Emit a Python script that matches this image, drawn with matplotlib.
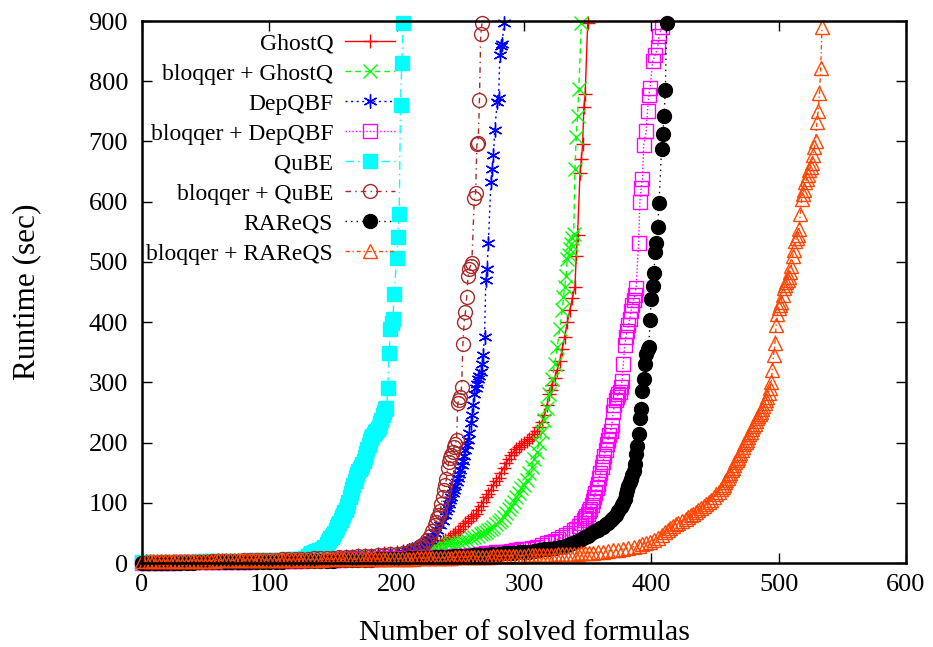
import matplotlib
matplotlib.use('Agg')
import matplotlib.pyplot as plt

plt.rcParams['font.family'] = ['Liberation Serif', 'DejaVu Serif']

# (number of solved formulas, runtime in sec)

ghostq = [(0, 0.5), (5, 0.7), (10, 1), (15, 1.2), (20, 1.5), (25, 1.7), (30, 2), (35, 2.2), (40, 2.5),
          (45, 2.7), (50, 3), (55, 3.2), (60, 3.5), (65, 3.7), (70, 4), (75, 4.2), (80, 4.5), (85, 4.7),
          (90, 5), (95, 5.2), (100, 5.5), (105, 5.8), (110, 6), (115, 6.3), (120, 6.6), (125, 7),
          (130, 7.4), (135, 7.8), (140, 8.2), (145, 8.8), (150, 9.5), (155, 10), (160, 11), (165, 11.8),
          (170, 12.5), (175, 13.3), (180, 14), (185, 15), (190, 16), (195, 17), (200, 18), (205, 19.5),
          (210, 21), (215, 23), (220, 25), (225, 27), (228, 29), (230, 31), (232, 32), (234, 33),
          (236, 36), (238, 38), (240, 40), (242, 43), (244, 46), (246, 50), (248, 53), (250, 57),
          (252, 62), (254, 66), (256, 70), (258, 74), (260, 78), (262, 82), (264, 88), (266, 95),
          (268, 102), (270, 110), (272, 115), (274, 122), (276, 130), (278, 137), (280, 142), (282, 150),
          (284, 158), (286, 166), (288, 173), (290, 180), (292, 185), (294, 190), (296, 193), (298, 196),
          (300, 200), (302, 203), (304, 206), (306, 210), (308, 214), (310, 219), (312, 226), (314, 234),
          (316, 245), (318, 262), (320, 280), (321, 288), (322, 295), (324, 308), (326, 320), (328, 335),
          (330, 355), (332, 376), (334, 400), (336, 420), (338, 440), (340, 459), (341, 509), (342, 544),
          (344, 648), (345, 671), (346, 695), (347, 757), (348, 778), (350, 896)]

bloqqer_ghostq = [(0, 0.5), (5, 0.6), (10, 0.8), (15, 1), (20, 1.2), (25, 1.4), (30, 1.6), (35, 1.8),
                  (40, 2), (45, 2.2), (50, 2.4), (55, 2.6), (60, 2.8), (65, 3), (70, 3.2), (75, 3.4),
                  (80, 3.6), (85, 3.8), (90, 4), (95, 4.2), (100, 4.4), (105, 4.6), (110, 4.8), (115, 5),
                  (120, 5.3), (125, 5.6), (130, 6), (135, 6.4), (140, 6.8), (145, 7.2), (150, 7.6),
                  (155, 8), (160, 8.5), (165, 9), (170, 9.5), (175, 10), (180, 10.6), (185, 11.3),
                  (190, 12), (195, 13), (200, 14), (205, 15), (210, 16.5), (215, 18), (220, 20),
                  (225, 21.5), (228, 23), (231, 25), (234, 27), (237, 29), (240, 31), (243, 32.5),
                  (246, 34), (249, 35.5), (252, 37), (255, 39), (258, 41), (261, 43), (264, 45), (266, 48),
                  (268, 50), (270, 52), (272, 55), (274, 57), (276, 60), (278, 64), (280, 68), (282, 72),
                  (284, 77), (286, 83), (288, 89), (290, 94), (292, 102), (294, 110), (296, 117),
                  (298, 124), (300, 130), (302, 138), (304, 150), (306, 160), (308, 172), (310, 185),
                  (312, 199), (314, 218), (316, 238), (318, 258), (320, 280), (322, 305), (324, 330),
                  (326, 358), (328, 388), (330, 420), (331, 441), (332, 458), (333, 476), (334, 505),
                  (335, 512), (336, 522), (337, 529), (338, 540), (339, 547), (340, 654), (341, 707),
                  (342, 742), (343, 787), (345, 896)]

depqbf = [(0, 0.5), (5, 0.7), (10, 0.9), (15, 1.1), (20, 1.3), (25, 1.5), (30, 1.7), (35, 1.9), (40, 2.1),
          (45, 2.3), (50, 2.5), (55, 2.7), (60, 2.9), (65, 3.1), (70, 3.3), (75, 3.5), (80, 3.7), (85, 3.9),
          (90, 4.1), (95, 4.3), (100, 4.5), (105, 4.8), (110, 5.1), (115, 5.4), (120, 5.7), (125, 6),
          (130, 6.4), (135, 6.8), (140, 7.2), (145, 7.6), (150, 8), (155, 8.5), (160, 9), (165, 9.5),
          (170, 10), (175, 10.7), (180, 11.4), (185, 12.2), (190, 13), (195, 14), (200, 15.5),
          (205, 18), (208, 20), (210, 21.5), (212, 23), (214, 25), (216, 27), (218, 29), (220, 31),
          (222, 33.5), (224, 36), (226, 39), (228, 44), (230, 50), (232, 55), (234, 63), (236, 70),
          (238, 80), (239, 86), (240, 92), (241, 98), (242, 104), (243, 110), (244, 116), (245, 122),
          (246, 128), (247, 134), (248, 141), (249, 148), (250, 155), (251, 163), (252, 170), (253, 178),
          (254, 187), (255, 196), (256, 205), (257, 216), (258, 232), (259, 245), (260, 262), (261, 281),
          (262, 290), (263, 298), (264, 305), (265, 311), (266, 317), (267, 330), (268, 346), (269, 376),
          (270, 470), (271, 488), (272, 532), (274, 633), (275, 654), (276, 677), (277, 719), (279, 766),
          (280, 772), (281, 843), (282, 858), (283, 862), (284, 896)]

bloqqer_depqbf = [(0, 0.3), (5, 0.4), (10, 0.5), (15, 0.6), (20, 0.7), (25, 0.8), (30, 0.9), (35, 1),
                  (40, 1.1), (45, 1.2), (50, 1.3), (55, 1.4), (60, 1.5), (65, 1.7), (70, 1.9), (75, 2.1),
                  (80, 2.3), (85, 2.5), (90, 2.7), (95, 2.9), (100, 3.1), (105, 3.3), (110, 3.5),
                  (115, 3.7), (120, 3.9), (125, 4.1), (130, 4.3), (135, 4.5), (140, 4.7), (145, 5),
                  (150, 5.3), (155, 5.6), (160, 5.9), (165, 6.2), (170, 6.5), (175, 6.8), (180, 7.1),
                  (185, 7.4), (190, 7.7), (195, 8), (200, 8.3), (205, 8.6), (210, 8.9), (215, 9.2),
                  (220, 9.5), (225, 9.8), (230, 10.1), (235, 10.4), (240, 10.7), (245, 11), (250, 11.3),
                  (254, 12), (258, 13), (262, 14), (266, 15), (270, 16), (274, 17), (278, 18), (282, 18.5),
                  (286, 19), (290, 20), (294, 21), (298, 22.5), (302, 24), (306, 25.5), (310, 27),
                  (314, 30), (318, 33), (321, 35), (324, 37), (327, 40), (330, 43), (333, 46), (336, 50),
                  (339, 54), (341, 57), (343, 61), (345, 66), (347, 71), (348, 74), (349, 78), (350, 82),
                  (351, 86), (352, 90), (353, 96), (354, 103), (355, 110), (356, 117), (357, 124),
                  (358, 132), (359, 141), (360, 150), (361, 159), (362, 168), (363, 178), (364, 188),
                  (365, 198), (366, 205), (367, 212), (368, 220), (369, 229), (370, 250), (371, 262),
                  (372, 270), (373, 276), (374, 280), (375, 284), (376, 292), (377, 303), (378, 330),
                  (379, 362), (380, 375), (381, 386), (382, 395), (383, 405), (384, 418), (385, 428),
                  (386, 436), (387, 445), (388, 457), (390, 531), (391, 600), (392, 623), (393, 638),
                  (394, 694), (396, 718), (397, 751), (398, 777), (399, 789), (401, 834), (403, 843),
                  (405, 857), (406, 875), (408, 890)]

qube = [(0, 1.5), (5, 1.6), (10, 1.7), (15, 1.8), (20, 1.9), (25, 2), (30, 2.1), (35, 2.2), (40, 2.4),
        (45, 2.6), (50, 2.8), (55, 3), (60, 3.2), (65, 3.4), (70, 3.6), (75, 3.8), (80, 4), (85, 4.2),
        (90, 4.4), (95, 4.6), (100, 4.9), (105, 5.2), (110, 5.6), (115, 6), (120, 6.6), (125, 7.5),
        (128, 9), (130, 11), (132, 14), (133, 16), (135, 18), (137, 20), (139, 22), (141, 24), (143, 27),
        (145, 31), (146, 35), (147, 38), (148, 42), (149, 44), (150, 46), (151, 50), (152, 55), (153, 59),
        (154, 63), (155, 67), (156, 71), (157, 76), (158, 80), (159, 84), (160, 88), (161, 95), (162, 102),
        (163, 109), (164, 116), (165, 123), (166, 130), (167, 137), (168, 143), (169, 148), (170, 152),
        (171, 156), (172, 160), (173, 165), (174, 170), (175, 176), (176, 183), (177, 190), (178, 196),
        (179, 202), (180, 207), (181, 211), (182, 215), (183, 218), (184, 220), (185, 223), (186, 226),
        (187, 232), (188, 238), (189, 245), (190, 251), (191, 255), (192, 258), (193, 290), (194, 349),
        (195, 388), (196, 398), (197, 405), (198, 447), (200, 506), (201, 541), (202, 580), (203, 760),
        (204, 831), (205, 896)]

bloqqer_qube = [(0, 0.5), (5, 0.6), (10, 0.8), (15, 1), (20, 1.2), (25, 1.4), (30, 1.6), (35, 1.8),
                (40, 2), (45, 2.2), (50, 2.5), (55, 2.8), (60, 3), (65, 3.3), (70, 3.6), (75, 3.9),
                (80, 4.2), (85, 4.5), (90, 4.8), (95, 5.1), (100, 5.4), (105, 5.7), (110, 6), (115, 6.3),
                (120, 6.6), (125, 7), (130, 7.4), (135, 7.8), (140, 8.2), (145, 8.6), (150, 9), (155, 9.5),
                (160, 10), (165, 10.5), (170, 11), (175, 11.6), (180, 12.2), (185, 12.8), (190, 13.5),
                (195, 14.2), (200, 15), (205, 16), (210, 18), (213, 21), (216, 24), (218, 27), (220, 30),
                (222, 34), (224, 39), (226, 45), (228, 53), (230, 63), (231, 68), (232, 74), (233, 80),
                (234, 86), (235, 98), (236, 110), (237, 122), (238, 130), (239, 139), (240, 157),
                (241, 168), (242, 175), (243, 180), (244, 184), (245, 192), (246, 198), (247, 204),
                (248, 266), (249, 270), (250, 275), (251, 293), (252, 364), (253, 400), (254, 417),
                (255, 441), (256, 476), (257, 488), (258, 494), (259, 498), (261, 606), (262, 615),
                (263, 695), (264, 698), (265, 769), (266, 878), (267, 896)]

rareqs = [(0, 0), (5, 0.1), (10, 0.2), (15, 0.3), (20, 0.4), (25, 0.5), (30, 0.6), (35, 0.7), (40, 0.8),
          (45, 0.9), (50, 1), (55, 1.1), (60, 1.2), (65, 1.3), (70, 1.4), (75, 1.5), (80, 1.6), (85, 1.7),
          (90, 1.8), (95, 1.9), (100, 2), (105, 2.2), (110, 2.4), (115, 2.6), (120, 2.8), (125, 3),
          (130, 3.2), (135, 3.4), (140, 3.6), (145, 3.8), (150, 4), (155, 4.3), (160, 4.6), (165, 4.9),
          (170, 5.2), (175, 5.5), (180, 5.8), (185, 6.1), (190, 6.4), (195, 6.7), (200, 7), (205, 7.4),
          (210, 7.8), (215, 8.2), (220, 8.6), (225, 9), (230, 9.5), (235, 10), (240, 10.5), (245, 11),
          (250, 11.5), (255, 12), (260, 12.5), (265, 13), (270, 13.7), (275, 14.4), (280, 15),
          (284, 16), (288, 16.5), (292, 17), (296, 17.5), (300, 18), (304, 18.5), (308, 19.5), (312, 21),
          (316, 22.5), (320, 24), (324, 25.5), (328, 27), (332, 29), (336, 32), (340, 35), (342, 36.5),
          (344, 38), (346, 41), (348, 43), (350, 45), (352, 48), (354, 51), (356, 53), (358, 55),
          (360, 58), (362, 60), (364, 64), (366, 67), (368, 71), (370, 75), (372, 80), (374, 86),
          (376, 93), (377, 96), (378, 100), (379, 107), (380, 115), (381, 122), (382, 128), (383, 134),
          (384, 140), (385, 146), (386, 152), (387, 165), (388, 181), (389, 195), (390, 215), (391, 240),
          (392, 255), (393, 285), (394, 305), (395, 330), (396, 347), (397, 355), (398, 359), (399, 404),
          (400, 439), (401, 460), (402, 481), (403, 516), (404, 531), (405, 558), (406, 597), (408, 688),
          (409, 712), (410, 742), (411, 786), (412, 896)]

bloqqer_rareqs = [(0, 3), (3, 3.1), (6, 3.1), (9, 3.2), (12, 3.2), (15, 3.3), (18, 3.4), (21, 3.4),
                  (24, 3.5), (27, 3.5), (30, 3.6), (33, 3.7), (36, 3.7), (39, 3.8), (42, 3.8), (45, 3.9),
                  (48, 4), (51, 4), (54, 4.1), (57, 4.1), (60, 4.2), (63, 4.3), (66, 4.3), (69, 4.4),
                  (72, 4.4), (75, 4.5), (78, 4.6), (81, 4.6), (84, 4.7), (87, 4.7), (90, 4.8), (93, 4.9),
                  (96, 4.9), (99, 5), (102, 5), (105, 5.1), (108, 5.2), (111, 5.2), (114, 5.3), (117, 5.3),
                  (120, 5.4), (123, 5.5), (126, 5.5), (129, 5.6), (132, 5.6), (135, 5.7), (138, 5.8),
                  (141, 5.8), (144, 5.9), (147, 5.9), (150, 6), (153, 6.1), (156, 6.1), (159, 6.2),
                  (162, 6.2), (165, 6.3), (168, 6.4), (171, 6.4), (174, 6.5), (177, 6.5), (180, 6.6),
                  (183, 6.7), (186, 6.7), (189, 6.8), (192, 6.8), (195, 6.9), (198, 7), (201, 7.1),
                  (204, 7.2), (207, 7.3), (210, 7.4), (213, 7.5), (216, 7.6), (219, 7.7), (222, 7.8),
                  (225, 8), (228, 8.2), (231, 8.3), (234, 8.5), (237, 8.7), (240, 8.9), (243, 9.1),
                  (246, 9.3), (249, 9.4), (252, 9.6), (255, 9.8), (258, 9.9), (261, 10.1), (264, 10.2),
                  (267, 10.4), (270, 10.6), (273, 10.8), (276, 11), (279, 11.1), (282, 11.3), (285, 11.5),
                  (288, 11.7), (291, 11.9), (294, 12), (297, 12.2), (300, 12.4), (303, 12.6), (306, 12.8),
                  (309, 13), (312, 13.2), (315, 13.3), (318, 13.5), (321, 13.7), (324, 13.9), (327, 14.2),
                  (330, 14.5), (333, 14.8), (336, 15.1), (339, 15.4), (342, 15.7), (345, 16), (348, 16.3),
                  (351, 16.6), (354, 17), (358, 18), (362, 19), (366, 20), (370, 21), (374, 22),
                  (378, 23.5), (382, 25), (386, 27), (390, 29), (393, 31), (396, 33), (399, 35), (402, 38),
                  (405, 42), (408, 47), (411, 52), (413, 55), (415, 58), (417, 61), (419, 64), (421, 67),
                  (424, 70), (427, 73), (429, 76), (431, 79), (433, 82), (435, 85), (437, 88), (439, 91),
                  (441, 95), (443, 98), (445, 101), (447, 105), (449, 110), (451, 114), (453, 118),
                  (455, 123), (456, 127), (457, 130), (458, 134), (459, 138), (460, 142), (461, 146),
                  (462, 150), (463, 154), (464, 158), (465, 162), (466, 167), (467, 171), (468, 175),
                  (469, 179), (470, 183), (471, 188), (472, 193), (473, 197), (474, 201), (475, 205),
                  (476, 210), (477, 214), (478, 218), (479, 222), (480, 227), (481, 231), (482, 236),
                  (483, 240), (484, 244), (485, 247), (486, 250), (487, 255), (488, 260), (489, 265),
                  (490, 270), (491, 276), (492, 282), (493, 290), (494, 300), (495, 321), (496, 345),
                  (497, 365), (498, 395), (499, 413), (500, 424), (501, 429), (502, 434), (503, 445),
                  (504, 457), (505, 461), (506, 466), (507, 470), (508, 475), (509, 484), (510, 493),
                  (511, 510), (512, 520), (513, 534), (514, 540), (515, 545), (516, 555), (517, 580),
                  (518, 605), (519, 612), (520, 620), (521, 632), (522, 638), (523, 645), (524, 652),
                  (525, 658), (526, 665), (527, 678), (528, 690), (529, 700), (530, 733), (531, 751),
                  (532, 780), (533, 822), (534, 890)]

series = [
    (ghostq, 'GhostQ', '#ff0000', '+', '-', True),
    (bloqqer_ghostq, 'bloqqer + GhostQ', '#00ff00', 'x', (0, (4, 3)), True),
    (depqbf, 'DepQBF', '#0000ff', (6, 2, 0), (0, (1.5, 2.5)), True),
    (bloqqer_depqbf, 'bloqqer + DepQBF', '#ff00ff', 's', (0, (1, 1.5)), False),
    (qube, 'QuBE', '#00ffff', 's', (0, (6, 3, 1, 3)), True),
    (bloqqer_qube, 'bloqqer + QuBE', '#a52a2a', 'o', (0, (4, 3, 1, 3)), False),
    (rareqs, 'RAReQS', '#000000', 'o', (0, (1, 3)), True),
    (bloqqer_rareqs, 'bloqqer + RAReQS', '#ff4500', '^', (0, (3, 2, 1, 2)), False),
]

fig = plt.figure(figsize=(9.33, 6.47), dpi=100)
ax = fig.add_axes([0.1522, 0.1298, 0.8189, 0.8377])

for pts, label, color, marker, ls, filled in series:
    xs, ys = zip(*pts)
    ax.plot(xs, ys, color=color, linestyle=ls, linewidth=1.0, marker=marker,
            markersize=10, markerfacecolor=color if filled else 'none',
            markeredgecolor=color, markeredgewidth=1.0, label=label, clip_on=False)

ax.set_xlim(0, 600)
ax.set_ylim(0, 900)
ax.set_xticks(range(0, 601, 100))
ax.set_yticks(range(0, 901, 100))
ax.tick_params(direction='in', length=7, width=1, top=True, right=True, labelsize=19)
ax.tick_params(axis='y', pad=10)
ax.tick_params(axis='x', pad=8)
for sp in ax.spines.values():
    sp.set_linewidth(1.8)
    sp.set_zorder(5)

ax.set_xlabel('Number of solved formulas', fontsize=21.6, labelpad=17)
ax.set_ylabel('Runtime (sec)', fontsize=22.5, labelpad=34)

leg = ax.legend(loc='upper right', bbox_to_anchor=(395 / 933, 1 - 33 / 647),
                bbox_transform=fig.transFigure, frameon=False, markerfirst=False,
                fontsize=17, handlelength=2.12, labelspacing=0.36, borderpad=0,
                borderaxespad=0, handletextpad=0.5, numpoints=1)
for col in leg._legend_box.get_children()[1].get_children():
    col.align = 'right'

fig.savefig('out.png', dpi=100)
